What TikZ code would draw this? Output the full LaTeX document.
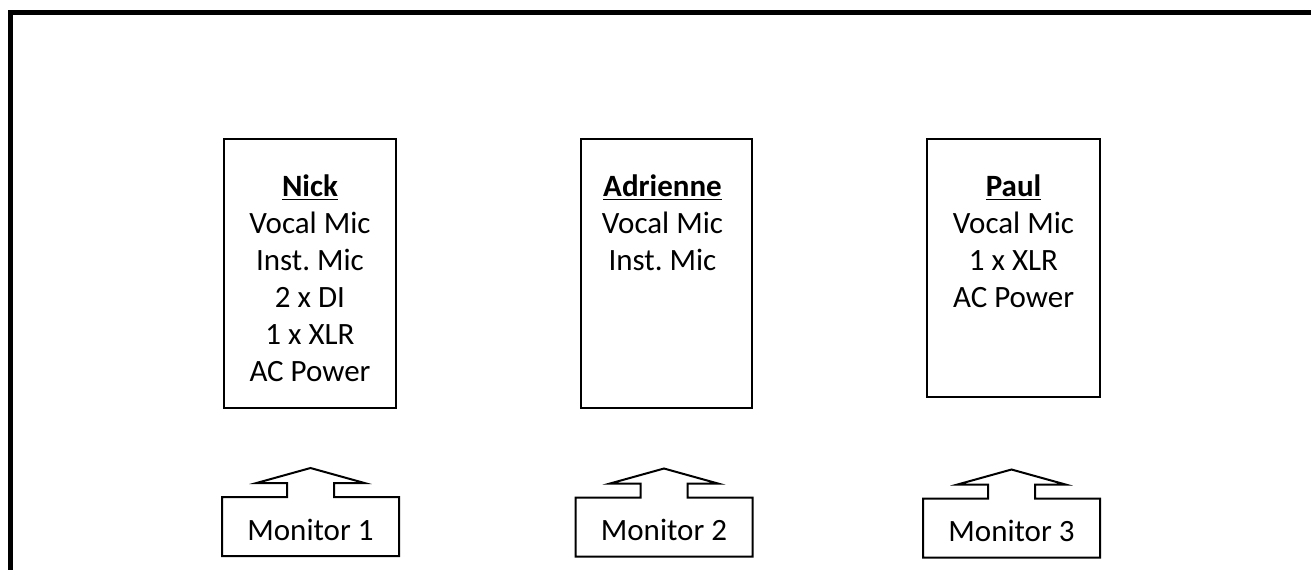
\documentclass[tikz,border=0pt]{standalone}
\usepackage{fontspec}
\setmainfont{Carlito}
\usetikzlibrary{calc}
\frenchspacing
\begin{document}
\begin{tikzpicture}[x=0.5pt,y=-0.5pt,
  personbox/.style={draw, line width=1.35pt, inner sep=0pt, outer sep=0pt},
  persontext/.style={align=center, anchor=north, inner sep=0pt, font=\fontsize{15.5}{18.5}\selectfont},
  montext/.style={inner sep=0pt, outer sep=0pt, minimum width=88.5pt, minimum height=29.5pt, text height=13.5pt, text depth=0pt, font=\fontsize{15.5}{18.5}\selectfont},
  monline/.style={line width=1pt, line join=miter},
  frameline/.style={line width=2.5pt, line join=miter}]
\useasboundingbox (0,0) rectangle (1311,569);
\clip (0,0) rectangle (1311,569);
\draw[frameline] (10.5,700) -- (10.5,12.5) -- (1400,12.5);

% performer boxes
\node[personbox, minimum width=86pt, minimum height=134.5pt] (nick) at (310,273.5) {};
\node[personbox, minimum width=85.5pt, minimum height=134.5pt] (adrienne) at (666.5,273.5) {};
\node[personbox, minimum width=86.5pt, minimum height=129pt] (paul) at (1013.5,268) {};

\node[persontext] (nicktext) at ($(nick.north)+(0,35)$) {\underline{\textbf{Nick}}\\Vocal Mic\\Inst. Mic\\2 x DI\\1 x XLR\\AC Power};
\node[persontext] (adriennetext) at ($(adrienne.north)+(-4,35)$) {\underline{\textbf{Adrienne}}\\Vocal Mic\\Inst. Mic};
\node[persontext] (paultext) at ($(paul.north)+(0,35)$) {\underline{\textbf{Paul}}\\Vocal Mic\\1 x XLR\\AC Power};

% monitors
\node[montext] (mon1) at (310.5,526.5) {Monitor 1};
\node[montext] (mon2) at (664,527) {Monitor 2};
\node[montext] (mon3) at (1011.5,528) {Monitor 3};

\foreach \m in {mon1,mon2,mon3}{
  \draw[monline] (\m.south west) -- (\m.north west) -- ($(\m.north)+(-23.5,0)$) -- ++(0,-14) -- ++(-30.5,0)
    -- ($(\m.north)+(0,-29)$) -- ($(\m.north)+(54,-14)$) -- ++(-30.5,0) -- ++(0,14)
    -- (\m.north east) -- (\m.south east) -- cycle;
}
\end{tikzpicture}
\end{document}
